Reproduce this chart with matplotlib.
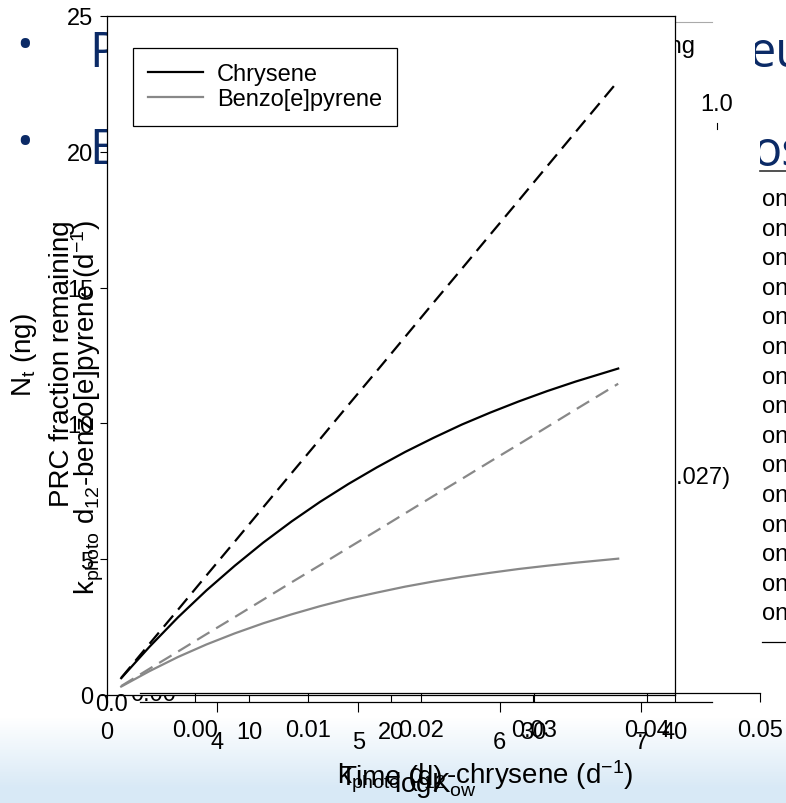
import numpy as np
import matplotlib
matplotlib.use('Agg')
import matplotlib.pyplot as plt
from matplotlib.lines import Line2D
from matplotlib.transforms import Bbox, TransformedBbox

plt.rcParams['font.family'] = ['Liberation Sans', 'DejaVu Sans']
plt.rcParams['mathtext.default'] = 'regular'

# values (time in days, amount in ng)
time_d = [1, 3, 5, 7, 9, 11, 13, 15, 17, 19, 21, 23, 25, 27, 29, 31, 33, 36]
chrysene = [0.62, 1.78, 2.86, 3.85, 4.76, 5.61, 6.39, 7.11, 7.77, 8.38, 8.95, 9.47,
            9.96, 10.40, 10.81, 11.19, 11.54, 12.02]
chrysene_lin = [0.63, 1.89, 3.14, 4.40, 5.65, 6.91, 8.17, 9.42, 10.68, 11.93, 13.19, 14.45,
                15.70, 16.96, 18.21, 19.47, 20.73, 22.61]
bep = [0.31, 0.88, 1.40, 1.86, 2.27, 2.64, 2.97, 3.27, 3.54, 3.77, 3.99, 4.18,
       4.35, 4.50, 4.64, 4.76, 4.87, 5.02]
bep_lin = [0.33, 0.97, 1.60, 2.24, 2.87, 3.51, 4.15, 4.78, 5.42, 6.05, 6.69, 7.33,
           7.96, 8.60, 9.23, 9.87, 10.51, 11.46]

time_ticks = [0, 10, 20, 30, 40]
ng_ticks = [0, 5, 10, 15, 20, 25]
kphoto_ticks = [0.00, 0.01, 0.02, 0.03, 0.04, 0.05]
logkow_ticks = [4, 5, 6, 7]

W, H = 786, 804
NAVY = '#0b2a66'


def fx(px):
    return px / W


def fy(py):
    return 1 - py / H


fig = plt.figure(figsize=(W / 100, H / 100), dpi=100)

# slide background: white fading to pale blue at the bottom
bg = fig.add_axes([0, 0, 1, 1], zorder=-5)
rows = np.arange(H)
t = np.clip((rows - 718) / 70.0, 0, 1)[:, None]
white = np.array([1.0, 1.0, 1.0])
blue = np.array([0.85, 0.915, 0.965])
grad = white * (1 - t) + blue * t
bg.imshow(grad[:, None, :], extent=[0, 1, 0, 1], aspect='auto', origin='upper')
bg.axis('off')

# main chart
ax = fig.add_axes([fx(107), fy(696), (675 - 107) / W, (696 - 17) / H], zorder=0)
ax.plot(time_d, chrysene, color='black', lw=1.6, label='Chrysene')
ax.plot(time_d, chrysene_lin, color='black', lw=1.6, ls=(0, (6.5, 3.5)))
ax.plot(time_d, bep, color='#888888', lw=1.6, label='Benzo[e]pyrene')
ax.plot(time_d, bep_lin, color='#888888', lw=1.6, ls=(0, (6.5, 3.5)))
ax.set_xlim(0, 40)
ax.set_ylim(0, 25)
ax.set_xticks(time_ticks)
ax.set_yticks(ng_ticks)
ax.tick_params(axis='x', direction='out', length=5, width=0.8, pad=13.5, labelsize=17)
ax.tick_params(axis='y', direction='out', length=5, width=0.8, pad=5, labelsize=17)
for s in ax.spines.values():
    s.set_linewidth(0.9)
leg = ax.legend(loc='upper left', bbox_to_anchor=(fx(133), fy(49)),
                bbox_transform=fig.transFigure, borderaxespad=0, fancybox=False,
                edgecolor='black', framealpha=1, fontsize=17, handlelength=2.3,
                handletextpad=0.6, borderpad=0.65, labelspacing=0.12)
leg.get_frame().set_linewidth(0.9)

# overlapping k_photo axis
axk = fig.add_axes([fx(140), fy(694), (760 - 140) / W, 0.01], zorder=1)
axk.set_facecolor('none')
axk.set_xlim(-0.00487, 0.05)
axk.set_xticks(kphoto_ticks)
axk.set_xticklabels(['%.2f' % v for v in kphoto_ticks])
axk.set_yticks([])
for side in ['left', 'right', 'top']:
    axk.spines[side].set_visible(False)
axk.spines['bottom'].set_linewidth(0.9)
axk.tick_params(axis='x', direction='out', length=6.5, width=0.8, pad=12, labelsize=17)

# overlapping log Kow axis
axl = fig.add_axes([fx(140), fy(703), (712 - 140) / W, 0.01], zorder=1)
axl.set_facecolor('none')
axl.set_xlim(3.455, 7.502)
axl.set_xticks(logkow_ticks)
axl.set_yticks([])
for side in ['left', 'right', 'top']:
    axl.spines[side].set_visible(False)
axl.spines['bottom'].set_linewidth(0.9)
axl.tick_params(axis='x', direction='out', length=7.2, width=0.8, pad=14, labelsize=17)

# axis titles of the stacked charts
fig.text(fx(24), fy(355), r'N$_t$ (ng)', rotation=90, ha='center', va='center', fontsize=20)
fig.text(fx(62), fy(364), 'PRC fraction remaining', rotation=90, ha='center', va='center', fontsize=20)
fig.text(fx(88), fy(408), r'k$_{photo}$ d$_{12}$-benzo[e]pyrene (d$^{-1}$)', rotation=90,
         ha='center', va='center', fontsize=20)
fig.text(fx(391), fy(785), 'Time (d)', ha='center', va='baseline', fontsize=20)
fig.text(fx(337), fy(785), r'k$_{photo}$ d$_{12}$-chrysene (d$^{-1}$)', ha='left', va='baseline', fontsize=20)
fig.text(fx(394), fy(792), r'log$K_{ow}$', ha='left', va='baseline', fontsize=20)

fig.text(fx(111), fy(705), '0.0', ha='center', va='center', fontsize=17)
fig.text(fx(153), fy(695), '0.00', ha='center', va='center', fontsize=17, zorder=-1)
fig.text(fx(717), fy(105), '1.0', ha='center', va='center', fontsize=17)
fig.add_artist(Line2D([fx(717), fx(717)], [fy(124), fy(130)], color='black', lw=0.8))
fig.text(fx(695), fy(47), 'remaining', ha='right', va='center', fontsize=17, zorder=-1)
fig.add_artist(Line2D([fx(675), fx(712)], [fy(23), fy(23)], color='#aaaaaa', lw=0.8, zorder=-1))
fig.text(fx(731), fy(478), '(0.027)', ha='right', va='center', fontsize=17, zorder=-1)

# slide text peeking out from behind
for yb in [48, 145]:
    fig.text(fx(25), fy(yb), '\u2022', ha='center', va='center', fontsize=32, color=NAVY,
             family=['Open Sans', 'DejaVu Sans'])
fig.text(fx(89), fy(67), 'P', ha='left', va='baseline', fontsize=35, color=NAVY,
         family=['Open Sans', 'DejaVu Sans'], zorder=-1)
fig.text(fx(89), fy(164), 'E', ha='left', va='baseline', fontsize=35, color=NAVY,
         family=['Open Sans', 'DejaVu Sans'], zorder=-1)
for txt, x0, xc, yb in [('eu', 748, 755, 67), ('os', 752, 760, 166)]:
    tt = fig.text(fx(x0), fy(yb), txt, ha='left', va='baseline', fontsize=35, color=NAVY,
                  family=['Open Sans', 'DejaVu Sans'])
    tt.set_clip_box(TransformedBbox(Bbox([[fx(xc), 0], [1, 1]]), fig.transFigure))
    tt.set_clip_on(True)
fig.add_artist(Line2D([fx(760), 1], [fy(172), fy(172)], color='#333333', lw=1.2))

# right column of cut-off words
for i in range(15):
    fig.text(fx(762), fy(200 + 29.6 * i), 'on', ha='left', va='center', fontsize=17)
fig.add_artist(Line2D([fx(762), 1], [fy(643), fy(643)], color='black', lw=0.9))

fig.savefig('out.png', dpi=100)
